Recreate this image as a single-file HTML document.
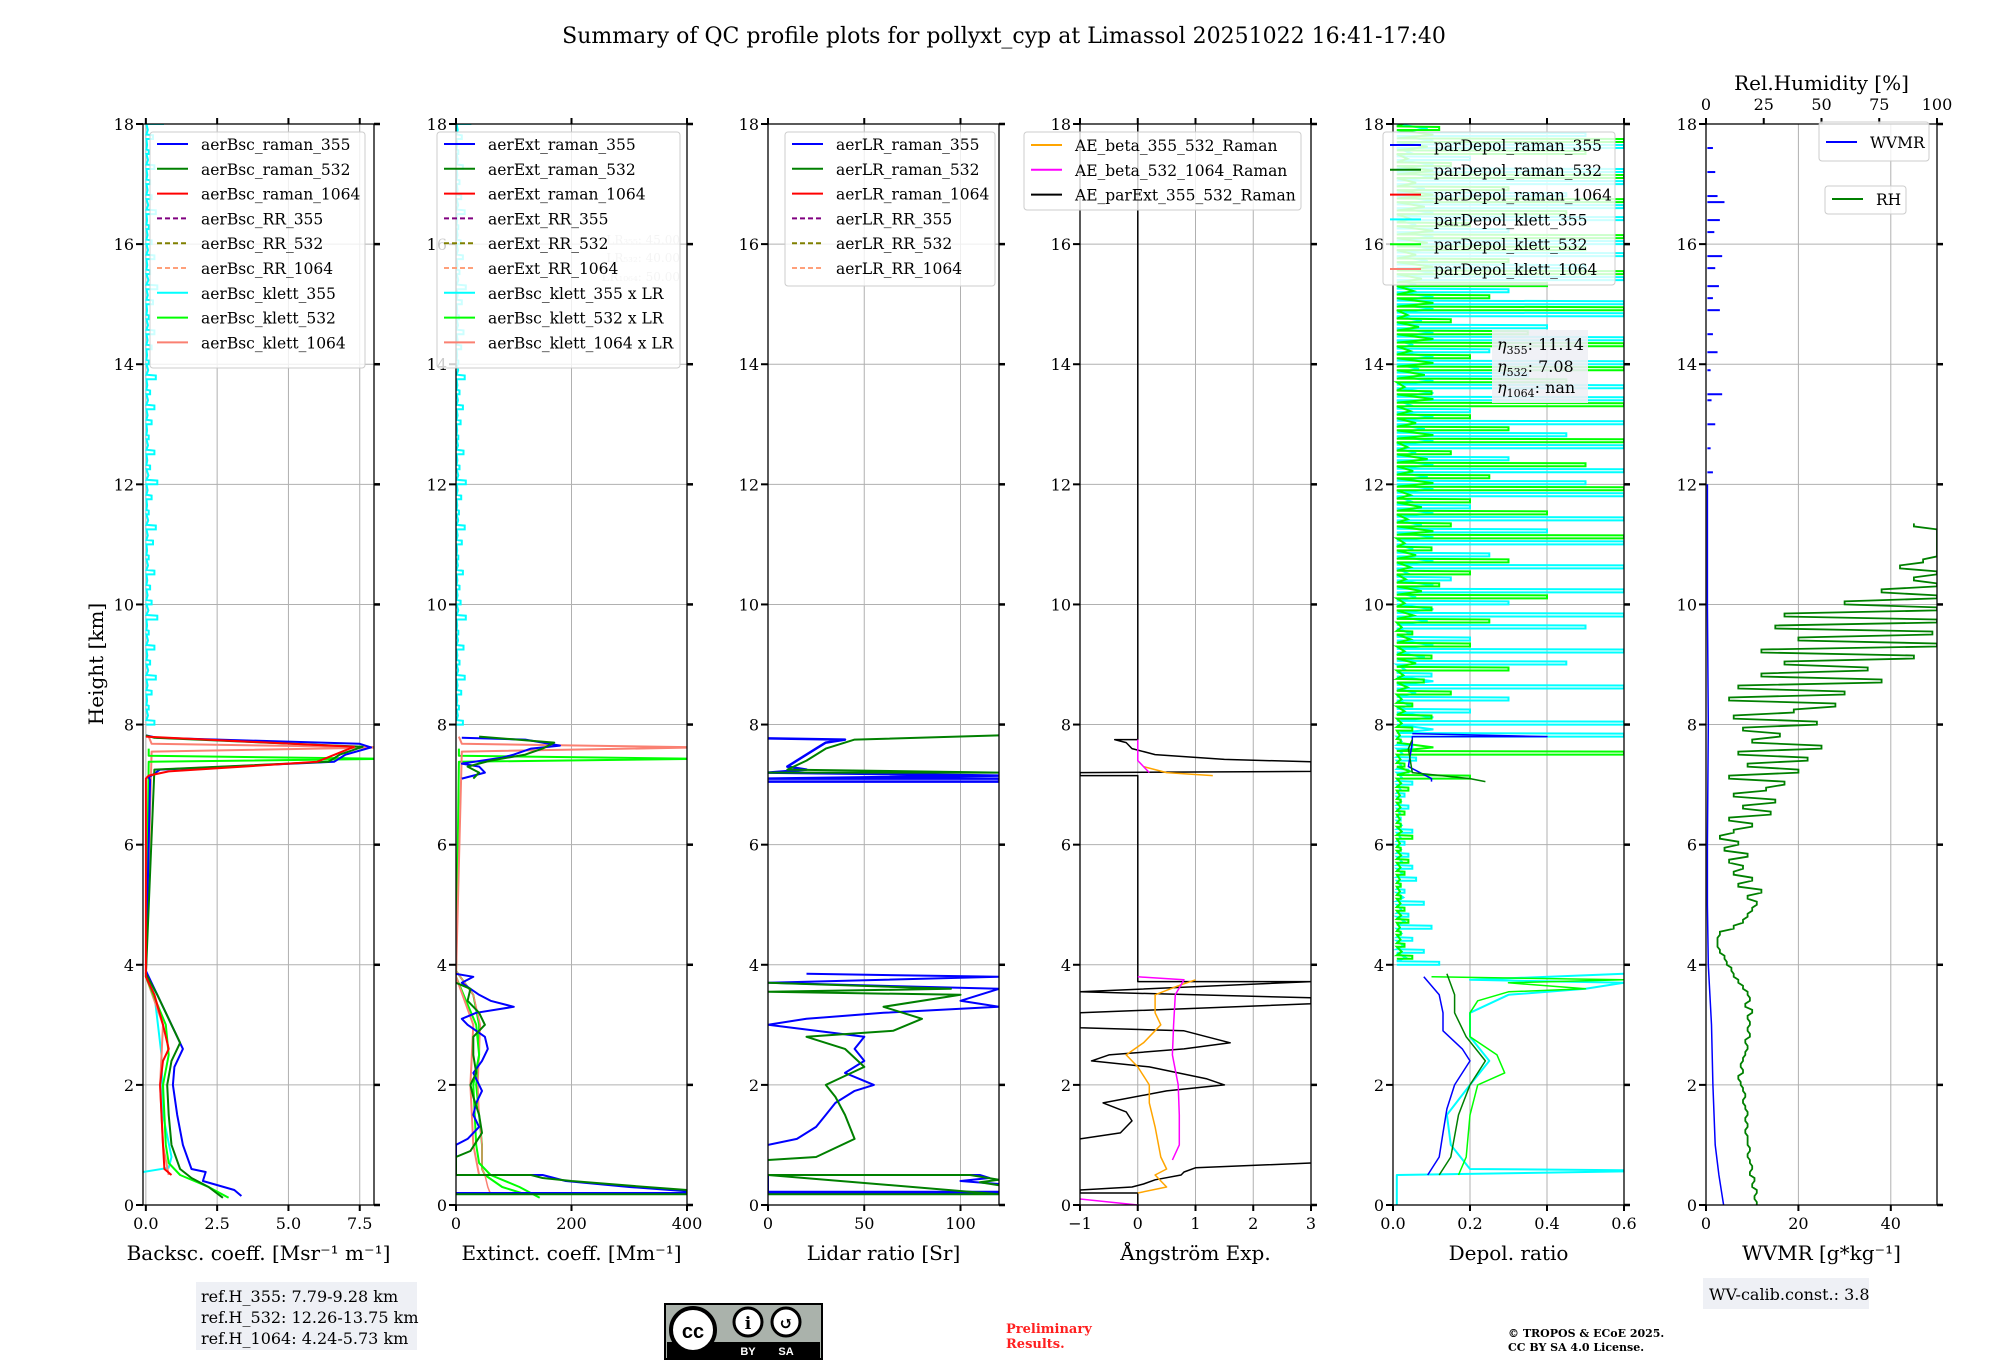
<!DOCTYPE html>
<html><head><meta charset="utf-8"><style>
html,body{margin:0;padding:0;background:#fff;}
svg{display:block;font-family:"DejaVu Serif","Liberation Serif",serif;}
</style></head><body>
<svg id="chart" width="2000" height="1360" viewBox="0 0 2000 1360" xmlns="http://www.w3.org/2000/svg">
<rect width="2000" height="1360" fill="#fff"/>
<text x="1004" y="43" font-size="22" text-anchor="middle">Summary of QC profile plots for pollyxt_cyp at Limassol 20251022 16:41-17:40</text>
<text x="0" y="0" font-size="20" text-anchor="middle" transform="translate(103,664) rotate(-90)">Height [km]</text>
<g>
<rect x="196" y="1282" width="221" height="68" fill="#eef0f5"/>
<text x="201" y="1302" font-size="16">ref.H_355: 7.79-9.28 km</text>
<text x="201" y="1323" font-size="16">ref.H_532: 12.26-13.75 km</text>
<text x="201" y="1344" font-size="16">ref.H_1064: 4.24-5.73 km</text>
</g>
<g>
<rect x="665" y="1304" width="157" height="55" fill="#aab2ab" stroke="#000" stroke-width="2"/>
<rect x="667" y="1342" width="153" height="16" fill="#000"/>
<circle cx="693" cy="1330" r="22" fill="#fff" stroke="#000" stroke-width="4"/>
<text x="693" y="1338" font-size="20" font-weight="bold" text-anchor="middle" font-family="Liberation Sans,sans-serif">cc</text>
<circle cx="748" cy="1322" r="14" fill="#fff" stroke="#000" stroke-width="3"/>
<circle cx="786" cy="1322" r="14" fill="#fff" stroke="#000" stroke-width="3"/>
<text x="748" y="1329" font-size="17" font-weight="bold" text-anchor="middle">i</text>
<text x="786" y="1329" font-size="17" font-weight="bold" text-anchor="middle">↺</text>
<text x="748" y="1355" font-size="11" font-weight="bold" fill="#fff" text-anchor="middle" font-family="Liberation Sans,sans-serif">BY</text>
<text x="786" y="1355" font-size="11" font-weight="bold" fill="#fff" text-anchor="middle" font-family="Liberation Sans,sans-serif">SA</text>
</g>
<text x="1006" y="1333" font-size="13" font-weight="bold" fill="#ff2020">Preliminary</text>
<text x="1006" y="1348" font-size="13" font-weight="bold" fill="#ff2020">Results.</text>
<text x="1508" y="1337" font-size="11" font-weight="bold">© TROPOS &amp; ECoE 2025.</text>
<text x="1508" y="1351" font-size="11" font-weight="bold">CC BY SA 4.0 License.</text>
<g>
<rect x="1703" y="1278" width="166" height="31" fill="#eef0f5"/>
<text x="1709" y="1300" font-size="16">WV-calib.const.: 3.8</text>
</g>
</svg>
<script>
// ---------- data ----------
const bsc355H=[0.15,0.25,0.4,0.55,0.6,0.8,1.0,1.5,2.0,2.3,2.6,2.8,3.1,3.5,3.85,3.9,7.08,7.12,7.25,7.38,7.5,7.62,7.68,7.78,7.82];
const bsc355V=[3.35,3.1,2.0,2.1,1.6,1.45,1.3,1.1,0.95,1.0,1.3,1.1,0.8,0.4,0.05,0,0.15,0.1,0.5,6.6,7.0,7.9,7.5,0.4,0];
const bsc532H=[0.12,0.3,0.45,0.6,1.0,1.5,2.0,2.4,2.7,3.0,3.5,3.85,7.25,7.38,7.5,7.63,7.78,7.82];
const bsc532V=[2.7,2.2,1.6,1.2,0.9,0.8,0.75,0.9,1.2,0.9,0.4,0,0.3,6.4,6.8,7.6,0.3,0];
const bsc1064H=[0.5,0.6,1.0,1.5,2.0,2.4,2.6,3.0,3.5,3.8,7.1,7.15,7.22,7.38,7.63,7.8];
const bsc1064V=[0.9,0.65,0.6,0.55,0.5,0.6,0.8,0.6,0.3,0,0,0.1,0.8,6.0,7.3,0];
const bscKlett532H=[0.12,0.3,0.5,0.7,1.0,2.0,2.5,3.0,3.8,7.38,7.43,7.48,7.6];
const bscKlett532V=[2.9,2.2,1.2,0.8,0.7,0.6,0.8,0.7,0,0.1,8.5,0.1,0.1];
const bscKlett1064H=[0.5,1.0,2.0,3.0,3.8,7.55,7.62,7.68,7.8];
const bscKlett1064V=[0.8,0.6,0.5,0.6,0,0.2,8.5,0.2,0.1];
const bscKlett355H=[0.55,0.62,0.8,1.5,2.5,3.5,3.9];
const bscKlett355V=[-0.1,0.8,0.9,0.6,0.55,0.3,0];
const bscCyanUp=[0.3,0.1,0.2,0.35,0.15,0.3,0.1,0.4,0.2,0.15,0.3,0.1,0.25,0.35,0.1,0.2,0.4,0.15,0.3,0.1,0.2,0.3,0.15,0.35,0.1,0.2,0.3,0.1,0.25,0.4,0.15,0.3,0.2,0.1,0.35,0.2,0.15,0.3,0.1,0.25,0.6];
const ext355H=[0.2,0.2,0.23,0.3,0.4,0.45,0.5,0.5,1.0,1.1,1.3,1.5,1.7,1.9,2.0,2.2,2.4,2.6,2.8,3.0,3.1,3.2,3.3,3.4,3.5,3.6,3.7,3.8,3.85];
const ext355V=[0,400,400,300,190,170,150,0,0,20,40,30,35,45,40,30,45,55,50,20,10,35,100,60,40,25,10,30,0];
const ext532H=[0.18,0.18,0.25,0.3,0.4,0.45,0.5,0.5,0.8,0.9,1.2,1.5,1.8,2.0,2.2,2.5,2.8,3.0,3.2,3.4,3.6,3.7];
const ext532V=[0,400,400,330,200,150,130,0,0,25,45,40,30,25,35,30,30,50,40,20,25,0];
const extCloud355H=[7.1,7.2,7.3,7.35,7.45,7.5,7.6,7.65,7.7,7.75,7.78];
const extCloud355V=[10,50,40,10,80,100,130,180,150,120,10];
const extCloud532H=[7.1,7.2,7.3,7.4,7.5,7.6,7.7,7.8];
const extCloud532V=[30,40,20,60,120,150,170,40];
const extKlettH=[0.18,0.3,0.5,0.6,1.0,1.5,2.0,2.5,3.0,3.5,3.9];
const extKlettV=[120,80,50,45,45,40,35,40,40,30,0];
const extSalmonV=[60,55,50,45,45,40,38,40,42,30,0];
const extCyanUp=[12,5,9,15,6,13,4,17,8,6,12,4,10,15,5,9,17,6,13,4,8,12,6,15,4,9,13,5,10,17,6,12,8,4,15,9,6,12,4,10,25];
const lr355LowH=[0.2,0.2,0.22,0.22,0.5,0.5,0.45,0.4,0.35];
const lr355LowV=[0,120,120,0,0,110,115,100,120];
const lr355H=[1.0,1.1,1.3,1.5,1.7,1.9,2.0,2.2,2.4,2.6,2.8,3.0,3.1,3.2,3.3,3.4,3.6,3.7,3.8,3.85];
const lr355V=[0,15,25,30,35,45,55,40,50,45,50,0,20,60,120,100,120,0,120,20];
const lr532LowH=[0.18,0.18,0.5,0.5,0.42,0.38,0.33];
const lr532LowV=[0,120,0,105,120,110,120];
const lr532H=[0.75,0.8,1.1,1.5,1.8,2.0,2.3,2.6,2.8,2.9,3.1,3.3,3.5,3.55,3.6,3.7];
const lr532V=[0,25,45,40,35,30,50,40,20,65,80,60,100,0,95,0];
const lrCloud355H=[7.05,7.05,7.1,7.1,7.15,7.2,7.25,7.3,7.4,7.5,7.6,7.7,7.75,7.77];
const lrCloud355V=[0,120,120,0,120,0,20,10,15,20,25,30,40,0];
const lrCloud532H=[7.2,7.2,7.25,7.4,7.6,7.75,7.82];
const lrCloud532V=[0,120,10,20,30,45,120];
const aeExtH=[18,7.75,7.75,7.7,7.6,7.5,7.42,7.38,7.25,7.22,7.2,7.15,7.15,3.78,3.72,3.72,3.55,3.45,3.35,3.2,2.95,2.9,2.8,2.7,2.6,2.5,2.4,2.3,2.1,2.0,1.9,1.7,1.55,1.4,1.2,1.1];
const aeExtV=[0,0,-0.4,-0.2,-0.1,0.3,1.5,3,3,3,-1,-1,0,0,0,3,-1,3,3,-1,-1,0.8,1.2,1.6,0.8,-0.5,-0.8,0.2,1.2,1.5,0.5,-0.6,-0.2,-0.1,-0.3,-1];
const aeExtLowH=[0.7,0.62,0.55,0.5,0.42,0.35,0.3,0.25,0.22,0.2,0.2,0];
const aeExtLowV=[3,1.0,0.8,0.75,0.3,0.1,-0.1,-1,-1,-1,0,0];
const ae355H=[3.75,3.65,3.5,3.2,3.0,2.7,2.5,2.3,2.0,1.7,1.3,0.8,0.6,0.5,0.3,0.2];
const ae355V=[1.0,0.7,0.3,0.3,0.4,0.1,-0.2,0.0,0.2,0.2,0.3,0.4,0.5,0.3,0.5,0.0];
const ae355CloudH=[7.3,7.2,7.15];
const ae355CloudV=[0.1,0.5,1.3];
const ae532H=[3.8,3.75,3.5,3.0,2.5,2.0,1.5,1.0,0.75];
const ae532V=[0,0.8,0.65,0.62,0.6,0.7,0.72,0.72,0.6];
const ae532LowH=[0.1,0];
const ae532LowV=[-1,0];
const ae532CloudH=[7.75,7.4,7.2];
const ae532CloudV=[0,0,0.2];
const dep355H=[0.5,0.8,1.2,1.6,2.0,2.4,2.6,2.9,3.2,3.5,3.8];
const dep355V=[0.09,0.12,0.13,0.14,0.16,0.2,0.18,0.13,0.13,0.12,0.08];
const dep355CloudH=[7.05,7.1,7.3,7.7,7.8,7.8,7.85];
const dep355CloudV=[0.1,0.1,0.04,0.05,0.05,0.4,0.05];
const dep532H=[0.5,0.8,1.5,2.0,2.4,2.8,3.2,3.5,3.85];
const dep532V=[0.12,0.15,0.17,0.2,0.24,0.19,0.16,0.16,0.14];
const dep532CloudH=[7.05,7.1,7.2,7.6,7.75];
const dep532CloudV=[0.24,0.2,0.05,0.04,0.05];
const depK532H=[0.5,0.8,1.5,2.0,2.2,2.5,2.8,3.2,3.4,3.55,3.6,3.7,3.75,3.8];
const depK532V=[0.17,0.19,0.2,0.22,0.29,0.27,0.2,0.2,0.22,0.3,0.5,0.3,0.6,0.1];
const depK355H=[0,0.5,0.56,0.58,0.6,1.0,1.5,2.0,2.4,2.8,3.2,3.5,3.6,3.7,3.75,3.85];
const depK355V=[0.01,0.01,0.6,0.6,0.2,0.15,0.14,0.2,0.25,0.2,0.2,0.3,0.5,0.6,0.2,0.6];
const depCyanUp=[0.12,0.08,0.05,0.1,0.04,0.08,0.03,0.06,0.05,0.04,0.03,0.05,0.02,0.04,0.03,0.05,0.04,0.06,0.05,0.6,0.6,0.2,0.3,0.6,0.1,0.45,0.6,0.2,0.5,0.6,0.3,0.6,0.15,0.6,0.25,0.6,0.4,0.6,0.2,0.6,0.5,0.6,0.3,0.6,0.45,0.6,0.2,0.6,0.6,0.35,0.6,0.25,0.6,0.4,0.6,0.6,0.3,0.6,0.5,0.6,0.6,0.3,0.6,0.6,0.45,0.6,0.6,0.2,0.6,0.5,0.03];
const depLimeUp=[0.05,0.03,0.02,0.04,0.03,0.02,0.02,0.03,0.04,0.02,0.05,0.02,0.03,0.02,0.04,0.2,0.03,0.6,0.02,0.05,0.1,0.05,0.15,0.08,0.3,0.1,0.2,0.05,0.25,0.1,0.4,0.12,0.2,0.3,0.1,0.6,0.15,0.4,0.2,0.6,0.25,0.5,0.15,0.6,0.3,0.2,0.6,0.1,0.45,0.6,0.2,0.6,0.35,0.15,0.6,0.25,0.4,0.6,0.3,0.5,0.6,0.2,0.45,0.6,0.3,0.6,0.15,0.5,0.6,0.12,0.1];
const wvmrH=[0,0.5,1,2,3,4,5,6,8,10,12];
const wvmrV=[3.8,2.8,2,1.5,1.2,0.5,0.3,0.3,0.5,0.3,0.3];
const wvmrDotsH=[12.2,12.6,13.0,13.4,13.5,13.9,14.2,14.5,14.9,15.1,15.3,15.6,15.8,16.2,16.4,16.7,16.8,17.2,17.6];
const wvmrDotsV=[1.5,1.0,2.0,1.2,3.5,1.0,2.5,1.5,3.0,1.5,2.8,2.0,3.5,1.8,3.0,4.0,2.5,2.0,1.5];
const rhValues=[22,21,22,20,21,19,20,19,18,19,18,18,17,18,17,18,17,16,17,16,15,14,16,15,16,17,18,17,19,18,19,18,20,17,19,18,16,14,12,11,9,8,6,5,5,6,12,16,18,20,22,18,24,14,20,12,16,10,18,8,14,6,12,20,10,28,16,30,12,26,34,10,40,18,44,14,50,20,32,16,48,12,38,56,10,60,14,76,24,70,34,90,24,100,40,98,30,100,34,100,60,100,76,100,90,100,84,94,100,100,100,100,100,90];

// ---------- layout ----------
const NS='http://www.w3.org/2000/svg';
const svg=document.getElementById('chart');
const TOP=124, BOT=1205, W=231;
function yOf(h){return BOT-(h/18)*(BOT-TOP);}
function mk(tag,attrs,parent){const e=document.createElementNS(NS,tag);for(const k in attrs)e.setAttribute(k,attrs[k]);(parent||svg).appendChild(e);return e;}
const panels=[
 {l:143,x0:-0.1,x1:8,ticks:[0,2.5,5,7.5],fmt:v=>v.toFixed(1),label:'Backsc. coeff. [Msr\u207B\u00B9 m\u207B\u00B9]',name:'backscatter'},
 {l:456,x0:0,x1:400,ticks:[0,200,400],fmt:v=>String(v),label:'Extinct. coeff. [Mm\u207B\u00B9]',name:'extinction'},
 {l:768,x0:0,x1:120,ticks:[0,50,100],fmt:v=>String(v),label:'Lidar ratio [Sr]',name:'lidar-ratio'},
 {l:1080,x0:-1,x1:3,ticks:[-1,0,1,2,3],fmt:v=>v<0?'\u2212'+(-v):String(v),label:'\u00C5ngstr\u00F6m Exp.',name:'angstrom'},
 {l:1393,x0:0,x1:0.6,ticks:[0,0.2,0.4,0.6],fmt:v=>v.toFixed(1),label:'Depol. ratio',name:'depol'},
 {l:1706,x0:0,x1:50,ticks:[0,20,40],fmt:v=>String(v),label:'WVMR [g*kg\u207B\u00B9]',name:'wvmr'}
];
function xOf(p,v){return p.l+(v-p.x0)/(p.x1-p.x0)*W;}
const hTicks=[0,2,4,6,8,10,12,14,16,18];

panels.forEach((p,i)=>{
 const g=mk('g',{});
 
 
 p.g=g;
 const cp=mk('clipPath',{id:'clip'+i},g);
 mk('rect',{x:p.l,y:TOP,width:W,height:BOT-TOP},cp);
 hTicks.forEach(h=>{const ln=mk('line',{x1:p.l,x2:p.l+W,y1:yOf(h),y2:yOf(h),stroke:'#b0b0b0','stroke-width':1},g);
  
  });
 p.ticks.forEach(v=>{const ln=mk('line',{x1:xOf(p,v),x2:xOf(p,v),y1:TOP,y2:BOT,stroke:'#b0b0b0','stroke-width':1},g);
  
  });
 p.data=mk('g',{'clip-path':'url(#clip'+i+')'},g);
});

function line(pi,hs,vs,color,width,name,dash){
 const p=panels[pi];
 const pts=hs.map((h,k)=>xOf(p,vs[k]).toFixed(1)+','+yOf(h).toFixed(1)).join(' ');
 const a={points:pts,fill:'none',stroke:color,'stroke-width':width||2,'stroke-linejoin':'round'};
 if(dash)a['stroke-dasharray']=dash;
 const e=mk('polyline',a,p.data);
 
 
 return e;
}
function spikes(pi,h0,dh,vs,base,color,width,name){
 const p=panels[pi];const pts=[];
 vs.forEach((v,k)=>{const h=h0+k*dh;
  pts.push([base,h],[v,h],[v,h+dh*0.25],[base,h+dh*0.3],[base*1.5+v*0.15,h+dh*0.6]);});
 const s=pts.map(q=>xOf(p,q[0]).toFixed(1)+','+yOf(q[1]).toFixed(1)).join(' ');
 const e=mk('polyline',{points:s,fill:'none',stroke:color,'stroke-width':width||2},p.data);
 
 
}

// panel 1
spikes(0,8.0,0.25,bscCyanUp,0.02,'#00ffff',2,'bsc-klett-355-upper');
line(0,bscKlett355H,bscKlett355V,'#00ffff',2,'bsc-klett-355');
line(0,bscKlett1064H,bscKlett1064V,'#fa8072',2,'bsc-klett-1064');
line(0,bscKlett532H,bscKlett532V,'#00ff00',2,'bsc-klett-532');
line(0,bsc355H,bsc355V,'#0000ff',2,'bsc-raman-355');
line(0,bsc532H,bsc532V,'#008000',2,'bsc-raman-532');
line(0,bsc1064H,bsc1064V,'#ff0000',2,'bsc-raman-1064');
// panel 2
spikes(1,8.0,0.25,extCyanUp,1,'#00ffff',2,'ext-klett-355-upper');
line(1,extKlettH,extKlettV,'#00ff00',2,'ext-klett-532');
line(1,extKlettH,extSalmonV,'#fa8072',1.5,'ext-klett-1064');
line(1,bscKlett532H,bscKlett532V.map(v=>v*50),'#00ff00',2,'ext-klett-532-cloud');
line(1,bscKlett1064H,bscKlett1064V.map(v=>v*50),'#fa8072',2,'ext-klett-1064-cloud');
line(1,ext355H,ext355V,'#0000ff',2,'ext-raman-355');
line(1,ext532H,ext532V,'#008000',2,'ext-raman-532');
line(1,extCloud355H,extCloud355V,'#0000ff',2,'ext-raman-355-cloud');
line(1,extCloud532H,extCloud532V,'#008000',2,'ext-raman-532-cloud');
// panel 3
line(2,lr355LowH,lr355LowV,'#0000ff',2,'lr-raman-355-low');
line(2,lr532LowH,lr532LowV,'#008000',2,'lr-raman-532-low');
line(2,lr355H,lr355V,'#0000ff',2,'lr-raman-355');
line(2,lr532H,lr532V,'#008000',2,'lr-raman-532');
line(2,lrCloud355H,lrCloud355V,'#0000ff',2.5,'lr-raman-355-cloud');
line(2,lrCloud532H,lrCloud532V,'#008000',2,'lr-raman-532-cloud');
// panel 4
line(3,aeExtH,aeExtV,'#000000',1.5,'ae-parext-355-532');
line(3,aeExtLowH,aeExtLowV,'#000000',1.5,'ae-parext-355-532-low');
line(3,ae355H,ae355V,'#ffa500',1.5,'ae-beta-355-532');
line(3,ae355CloudH,ae355CloudV,'#ffa500',1.5,'ae-beta-355-532-cloud');
line(3,ae532H,ae532V,'#ff00ff',1.5,'ae-beta-532-1064');
line(3,ae532LowH,ae532LowV,'#ff00ff',1.5,'ae-beta-532-1064-low');
line(3,ae532CloudH,ae532CloudV,'#ff00ff',1.5,'ae-beta-532-1064-cloud');
// panel 5
spikes(4,4.0,0.2,depCyanUp,0.01,'#00ffff',2,'depol-klett-355-upper');
spikes(4,4.1,0.2,depLimeUp,0.01,'#00ff00',2,'depol-klett-532-upper');
line(4,depK355H,depK355V,'#00ffff',2,'depol-klett-355');
line(4,depK532H,depK532V,'#00ff00',1.5,'depol-klett-532');
line(4,dep355H,dep355V,'#0000ff',1.5,'depol-raman-355');
line(4,dep532H,dep532V,'#008000',1.5,'depol-raman-532');
line(4,dep355CloudH,dep355CloudV,'#0000ff',1.5,'depol-raman-355-cloud');
line(4,dep532CloudH,dep532CloudV,'#008000',1.5,'depol-raman-532-cloud');
// panel 6
line(5,wvmrH,wvmrV,'#0000ff',1.5,'wvmr-profile');
(function(){const p=panels[5];
 wvmrDotsH.forEach((h,k)=>{const e=mk('line',{x1:xOf(p,0.3),x2:xOf(p,wvmrDotsV[k]),y1:yOf(h),y2:yOf(h),stroke:'#0000ff','stroke-width':2},p.data);
  
  });
 const pts=[];rhValues.forEach((v,k)=>{const h=k*0.1;pts.push([v/2,h],[v/2,h+0.05]);});
 const s=pts.map(q=>xOf(p,q[0]).toFixed(1)+','+yOf(q[1]).toFixed(1)).join(' ');
 const e=mk('polyline',{points:s,fill:'none',stroke:'#008000','stroke-width':1.8},p.data);
 
 
})();

// axes
panels.forEach((p,i)=>{
 const g=p.g;
 const fr=mk('rect',{x:p.l,y:TOP,width:W,height:BOT-TOP,fill:'none',stroke:'#000','stroke-width':1.3},g);
 
 
 hTicks.forEach(h=>{const y=yOf(h);
  mk('line',{x1:p.l-7,x2:p.l,y1:y,y2:y,stroke:'#000','stroke-width':2},g);
  mk('line',{x1:p.l+W,x2:p.l+W+6,y1:y,y2:y,stroke:'#000','stroke-width':2.5},g);
  const t=mk('text',{x:p.l-9,y:y+6,'font-size':16,'text-anchor':'end'},g);t.textContent=String(h);
  
  });
 p.ticks.forEach(v=>{const x=xOf(p,v);
  mk('line',{x1:x,x2:x,y1:BOT,y2:BOT+6,stroke:'#000','stroke-width':2},g);
  if(i<5)mk('line',{x1:x,x2:x,y1:TOP-6,y2:TOP,stroke:'#000','stroke-width':2},g);
  const t=mk('text',{x:x,y:BOT+24,'font-size':16,'text-anchor':'middle'},g);t.textContent=p.fmt(v);
  
  });
 const al=mk('text',{x:p.l+W/2,y:BOT+55,'font-size':20,'text-anchor':'middle'},g);al.textContent=p.label;
 
 
});
(function(){const p=panels[5];
 [0,25,50,75,100].forEach(v=>{const x=p.l+v/100*W;
  mk('line',{x1:x,x2:x,y1:TOP-6,y2:TOP,stroke:'#000','stroke-width':2},p.g);
  const t=mk('text',{x:x,y:TOP-14,'font-size':16,'text-anchor':'middle'},p.g);t.textContent=String(v);
  
  });
 const t=mk('text',{x:p.l+W/2,y:TOP-34,'font-size':20,'text-anchor':'middle'},p.g);t.textContent='Rel.Humidity [%]';
 
 
})();

function legend(bx,by,bw,bh,rowY,items,name){
 const g=mk('g',{});
 
 
 mk('rect',{x:bx,y:by,width:bw,height:bh,rx:3,fill:'#fff','fill-opacity':0.8,stroke:'#cccccc','stroke-width':1},g);
 items.forEach((it,k)=>{const y=rowY+k*24.8;
  const a={x1:bx+7,x2:bx+38,y1:y,y2:y,stroke:it[1],'stroke-width':2};
  if(it[2])a['stroke-dasharray']='5,3';
  mk('line',a,g);
  const t=mk('text',{x:bx+51,y:y+6,'font-size':15.5},g);t.textContent=it[0];
  
  });
}
[['LR\u2083\u2085\u2085: 45.00',244],['LR\u2085\u2083\u2082: 40.00',262],['LR\u2081\u2080\u2086\u2084: 50.00',281]].forEach(a=>{
 const t=mk('text',{x:680,y:a[1],'font-size':12,fill:'#c8c8c8','text-anchor':'end'});t.textContent=a[0];
 
 });
const S=[['#0000ff'],['#008000'],['#ff0000'],['#800080',1],['#808000',1],['#ffa07a',1],['#00ffff'],['#00ff00'],['#fa8072']];
legend(150,132,215,236,144,['aerBsc_raman_355','aerBsc_raman_532','aerBsc_raman_1064','aerBsc_RR_355','aerBsc_RR_532','aerBsc_RR_1064','aerBsc_klett_355','aerBsc_klett_532','aerBsc_klett_1064'].map((n,k)=>[n,S[k][0],S[k][1]]),'legend-backscatter');
legend(437,132,243,236,144,['aerExt_raman_355','aerExt_raman_532','aerExt_raman_1064','aerExt_RR_355','aerExt_RR_532','aerExt_RR_1064','aerBsc_klett_355 x LR','aerBsc_klett_532 x LR','aerBsc_klett_1064 x LR'].map((n,k)=>[n,S[k][0],S[k][1]]),'legend-extinction');
legend(785,132,210,154,144,['aerLR_raman_355','aerLR_raman_532','aerLR_raman_1064','aerLR_RR_355','aerLR_RR_532','aerLR_RR_1064'].map((n,k)=>[n,S[k][0],S[k][1]]),'legend-lidar-ratio');
legend(1024,132,277,78,145,[['AE_beta_355_532_Raman','#ffa500'],['AE_beta_532_1064_Raman','#ff00ff'],['AE_parExt_355_532_Raman','#000000']],'legend-angstrom');
legend(1383,132,232,153,145,[['parDepol_raman_355','#0000ff'],['parDepol_raman_532','#008000'],['parDepol_raman_1064','#ff0000'],['parDepol_klett_355','#00ffff'],['parDepol_klett_532','#00ff00'],['parDepol_klett_1064','#fa8072']],'legend-depol');
legend(1819,122,110,39,142,[['WVMR','#0000ff']],'legend-wvmr');
legend(1825,186,81,28,199,[['RH','#008000']],'legend-rh');
(function(){const g=mk('g',{});
 
 
 mk('rect',{x:1492,y:330,width:96,height:73,fill:'#eef0f5','fill-opacity':0.9},g);
 [['\u03B7','355',': 11.14',350],['\u03B7','532',': 7.08',372],['\u03B7','1064',': nan',393]].forEach(a=>{
  const t=mk('text',{x:1497,y:a[3],'font-size':16},g);
  t.innerHTML='<tspan font-style="italic">'+a[0]+'</tspan><tspan font-size="11" dy="4">'+a[1]+'</tspan><tspan dy="-4">'+a[2]+'</tspan>';});
})();
</script>
</body></html>
